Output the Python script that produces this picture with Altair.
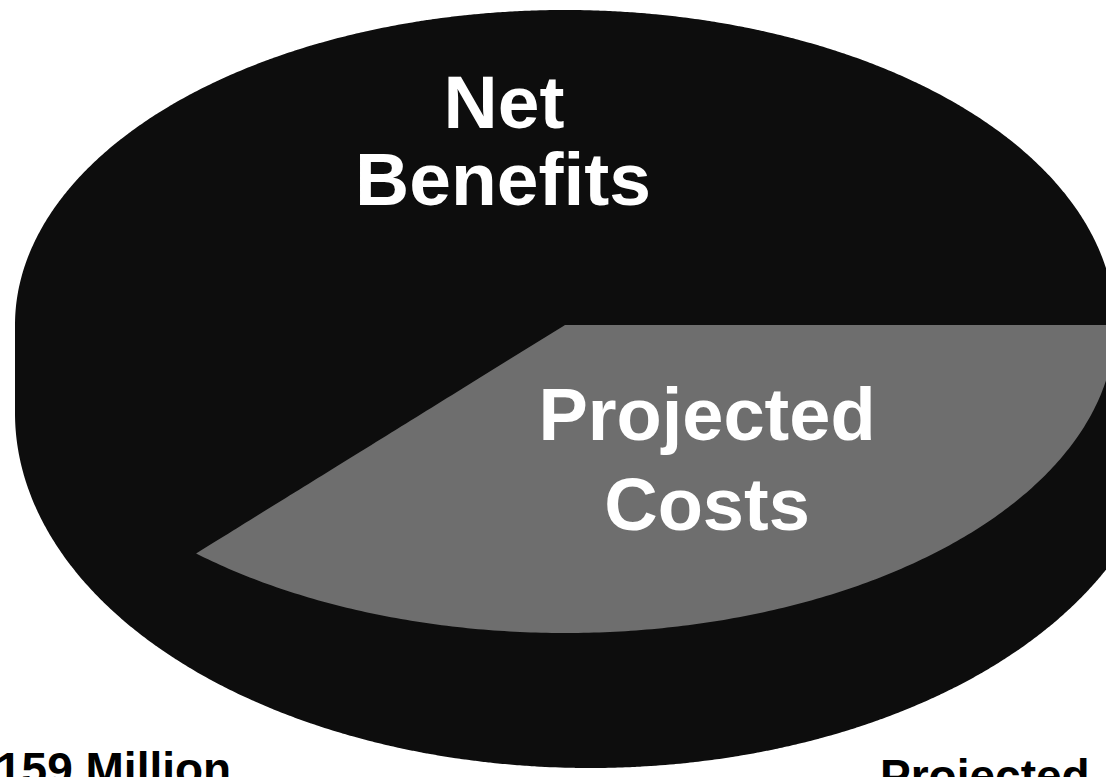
import altair as alt
import numpy as np
import pandas as pd

# Pie shares, percent of the total
slices = ["Net Benefits", "Projected Costs"]
shares = [63.3, 36.7]
slice_colors = ["#0d0d0d", "#6e6e6e"]

# Slice labels, one entry per line
net_lines = ["Net", "Benefits"]
cost_lines = ["Projected", "Costs"]

# Captions along the bottom edge
caption_left = "159 Million"
caption_right = "Projected"

W, H = 1106, 777
FONT = "Liberation Sans"

# Tilted (3-D) pie geometry, in pixels
CX, CY = 565, 325              # centre of the top face
RX = 550                       # horizontal radius of the top face
FAR_RY = 315                   # back half of the top face
NEAR_RY = 308                  # front half of the top face
RIM_CX, RIM_RX = 590, 575      # lower rim of the side wall (nearer, wider)
RIM_CY, RIM_RY = 413, 355

xs = alt.Scale(domain=[0, W])
ys = alt.Scale(domain=[0, H], reverse=True)


def half(x, cx, rx):
    """Height factor of an ellipse of centre cx and radius rx at x."""
    return np.sqrt(np.clip(1 - ((x - cx) / rx) ** 2, 0, None))


# Whole pie body: back edge of the top face down to the lower rim
t = np.linspace(0, np.pi, 361)
bx = np.union1d(CX - RX * np.cos(t), RIM_CX - RIM_RX * np.cos(t))
bx = bx[(bx >= min(CX - RX, RIM_CX - RIM_RX)) & (bx <= max(CX + RX, RIM_CX + RIM_RX))]
body = pd.DataFrame({
    "slice": slices[0],
    "x": bx,
    "top": CY - FAR_RY * half(bx, CX, RX),
    "bottom": RIM_CY + RIM_RY * half(bx, RIM_CX, RIM_RX),
})

# Projected-costs wedge on the top face, swept clockwise from 3 o'clock
frac = shares[1] / sum(shares)
theta_end = 2 * np.pi * frac
ta = np.union1d(np.linspace(0, theta_end, 241), [np.pi / 2])
ta = ta[ta <= theta_end]
xe = CX + RX * np.cos(theta_end)
ye = CY + NEAR_RY * np.sin(theta_end)
wx = CX + RX * np.cos(ta)
w_bottom = CY + NEAR_RY * np.sin(ta)
w_top = np.where(wx < CX, CY + (ye - CY) * (wx - CX) / (xe - CX), CY)
wedge = pd.DataFrame({"slice": slices[1], "x": wx, "top": w_top, "bottom": w_bottom})

color = alt.Color("slice:N", scale=alt.Scale(domain=slices, range=slice_colors), legend=None)


def band(df):
    return alt.Chart(df).mark_area(clip=True, interpolate="linear").encode(
        x=alt.X("x:Q", scale=xs, axis=None),
        y=alt.Y("top:Q", scale=ys, axis=None),
        y2="bottom:Q",
        color=color,
    )


def label(text, x, y, size, align="center", fill="white"):
    return alt.Chart(pd.DataFrame({"t": [text]})).mark_text(
        font=FONT, fontWeight="bold", fontSize=size, align=align,
        baseline="alphabetic", color=fill,
    ).encode(text="t:N", x=alt.value(x), y=alt.value(y))


layers = [
    band(body),
    band(wedge),
    label(net_lines[0], 504, 128, 75),
    label(net_lines[1], 503, 205, 75),
    label(cost_lines[0], 707, 440, 74),
    label(cost_lines[1], 707, 530, 74),
    label(caption_left, -4, 785, 46, align="left", fill="black"),
    label(caption_right, 880, 792, 46, align="left", fill="black"),
]

chart = alt.layer(*layers).properties(
    width=W, height=H, padding=0, autosize=alt.AutoSizeParams(type="none"),
    background="white",
).configure_view(stroke=None)

chart.save("out.html", embed_options={"renderer": "svg", "actions": False})
